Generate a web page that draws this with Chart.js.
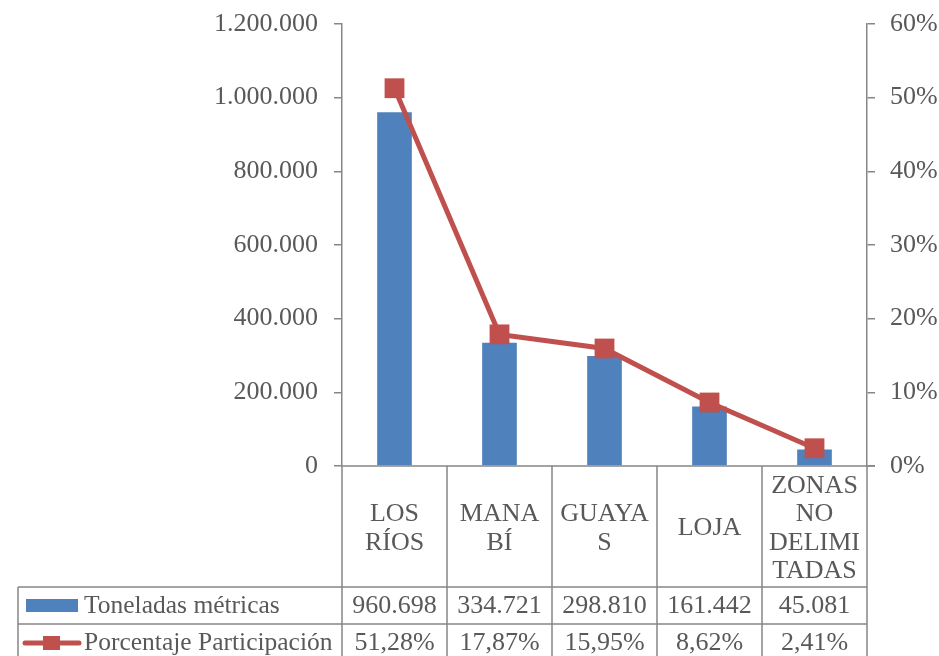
<!DOCTYPE html>
<html>
<head>
<meta charset="utf-8">
<script src="https://cdn.jsdelivr.net/npm/chart.js@4.4.0/dist/chart.umd.min.js"></script>
<style>
    html, body { margin: 0; padding: 0; background: #fff; }
    #wrap { width: 939px; height: 656px; }
</style>
</head>
<body>
<div id="wrap"><canvas id="chart" width="939" height="656"></canvas></div>
<script>
const categories = [['LOS', 'RÍOS'], ['MANA', 'BÍ'], ['GUAYA', 'S'], ['LOJA'], ['ZONAS', 'NO', 'DELIMI', 'TADAS']];
const toneladas = [960698, 334721, 298810, 161442, 45081];
const porcentaje = [51.28, 17.87, 15.95, 8.62, 2.41];
const toneladasText = ['960.698', '334.721', '298.810', '161.442', '45.081'];
const porcentajeText = ['51,28%', '17,87%', '15,95%', '8,62%', '2,41%'];
const seriesNames = ['Toneladas métricas', 'Porcentaje Participación'];

const FONT = '"Liberation Serif", "Times New Roman", serif';
const TEXT = '#595959';
const LINE = '#868686';
const BLUE = '#4F81BD';
const RED = '#C0504D';

function fmtThousands(v) {
    return String(Math.round(v)).replace(/\B(?=(\d{3})+(?!\d))/g, '.');
}

// draws the data table under the plot, using the x scale for columns
const dataTable = {
    id: 'dataTable',
    afterDraw(chart) {
        const ctx = chart.ctx;
        const area = chart.chartArea;
        const xs = chart.scales.x;
        const colW = (area.right - area.left) / categories.length;
        const catTop = area.bottom;
        const row1 = 587;
        const row2 = 624;
        const bottom = chart.height + 5;
        const tableLeft = 18;

        ctx.save();
        ctx.strokeStyle = LINE;
        ctx.lineWidth = 1.5;

        // x axis line
        ctx.beginPath();
        ctx.moveTo(area.left, catTop);
        ctx.lineTo(area.right + 8, catTop);
        ctx.stroke();

        // column lines
        for (let i = 0; i <= categories.length; i++) {
            const x = area.left + i * colW;
            ctx.beginPath();
            ctx.moveTo(x, catTop);
            ctx.lineTo(x, bottom);
            ctx.stroke();
        }
        // row lines
        [row1, row2].forEach(y => {
            ctx.beginPath();
            ctx.moveTo(tableLeft, y);
            ctx.lineTo(area.right, y);
            ctx.stroke();
        });
        ctx.beginPath();
        ctx.moveTo(tableLeft, row1);
        ctx.lineTo(tableLeft, bottom);
        ctx.stroke();

        ctx.fillStyle = TEXT;
        ctx.font = '26px ' + FONT;
        ctx.textAlign = 'center';
        ctx.textBaseline = 'middle';

        // category labels
        const lh = 28.5;
        categories.forEach((lines, i) => {
            const cx = xs.getPixelForValue(i);
            const cy = (catTop + row1) / 2 + 2;
            const start = cy - (lines.length - 1) * lh / 2;
            lines.forEach((t, j) => ctx.fillText(t, cx, start + j * lh));
        });

        // values
        const y1 = (row1 + row2) / 2 + 1;
        const y2 = (row2 + 660) / 2 + 1;
        toneladasText.forEach((t, i) => ctx.fillText(t, xs.getPixelForValue(i), y1));
        porcentajeText.forEach((t, i) => ctx.fillText(t, xs.getPixelForValue(i), y2));

        // series names with keys
        ctx.font = '25.5px ' + FONT;
        ctx.textAlign = 'left';
        ctx.fillText(seriesNames[0], 84, y1);
        ctx.fillText(seriesNames[1], 84, y2);

        ctx.fillStyle = BLUE;
        ctx.fillRect(26, 599, 52, 13);

        ctx.strokeStyle = RED;
        ctx.lineWidth = 5;
        ctx.lineCap = 'round';
        ctx.beginPath();
        ctx.moveTo(25, 643);
        ctx.lineTo(79, 643);
        ctx.stroke();
        ctx.fillStyle = RED;
        ctx.fillRect(43, 636, 17, 14);
        ctx.restore();
    }
};

new Chart(document.getElementById('chart'), {
    data: {
        labels: categories.map(c => c.join(' ')),
        datasets: [
            {
                type: 'line',
                label: seriesNames[1],
                data: porcentaje,
                yAxisID: 'y1',
                borderColor: RED,
                backgroundColor: RED,
                borderWidth: 5,
                pointStyle: 'rect',
                pointRadius: 14,
                pointBorderWidth: 0,
                tension: 0,
                order: 0
            },
            {
                type: 'bar',
                label: seriesNames[0],
                data: toneladas,
                yAxisID: 'y',
                backgroundColor: BLUE,
                categoryPercentage: 1,
                barPercentage: 0.33,
                order: 1
            }
        ]
    },
    options: {
        responsive: false,
        animation: false,
        layout: { padding: { top: 24, bottom: 190, left: 0, right: 0 } },
        plugins: {
            legend: { display: false },
            tooltip: { enabled: false }
        },
        scales: {
            x: {
                display: false
            },
            y: {
                position: 'left',
                min: 0,
                max: 1200000,
                afterFit(scale) { scale.width = 342; },
                ticks: {
                    stepSize: 200000,
                    color: TEXT,
                    font: { family: FONT, size: 26, lineHeight: 0.6 },
                    padding: 16,
                    callback: v => fmtThousands(v)
                },
                grid: {
                    drawOnChartArea: false,
                    color: LINE,
                    lineWidth: 1.5,
                    tickLength: 8
                },
                border: { color: LINE, width: 1.5 }
            },
            y1: {
                position: 'right',
                min: 0,
                max: 60,
                afterFit(scale) { scale.width = 939 - 867; },
                ticks: {
                    stepSize: 10,
                    color: TEXT,
                    font: { family: FONT, size: 26, lineHeight: 0.6 },
                    padding: 15,
                    callback: v => v + '%'
                },
                grid: {
                    drawOnChartArea: false,
                    color: LINE,
                    lineWidth: 1.5,
                    tickLength: 8
                },
                border: { color: LINE, width: 1.5 }
            }
        }
    },
    plugins: [dataTable]
});
</script>
</body>
</html>
